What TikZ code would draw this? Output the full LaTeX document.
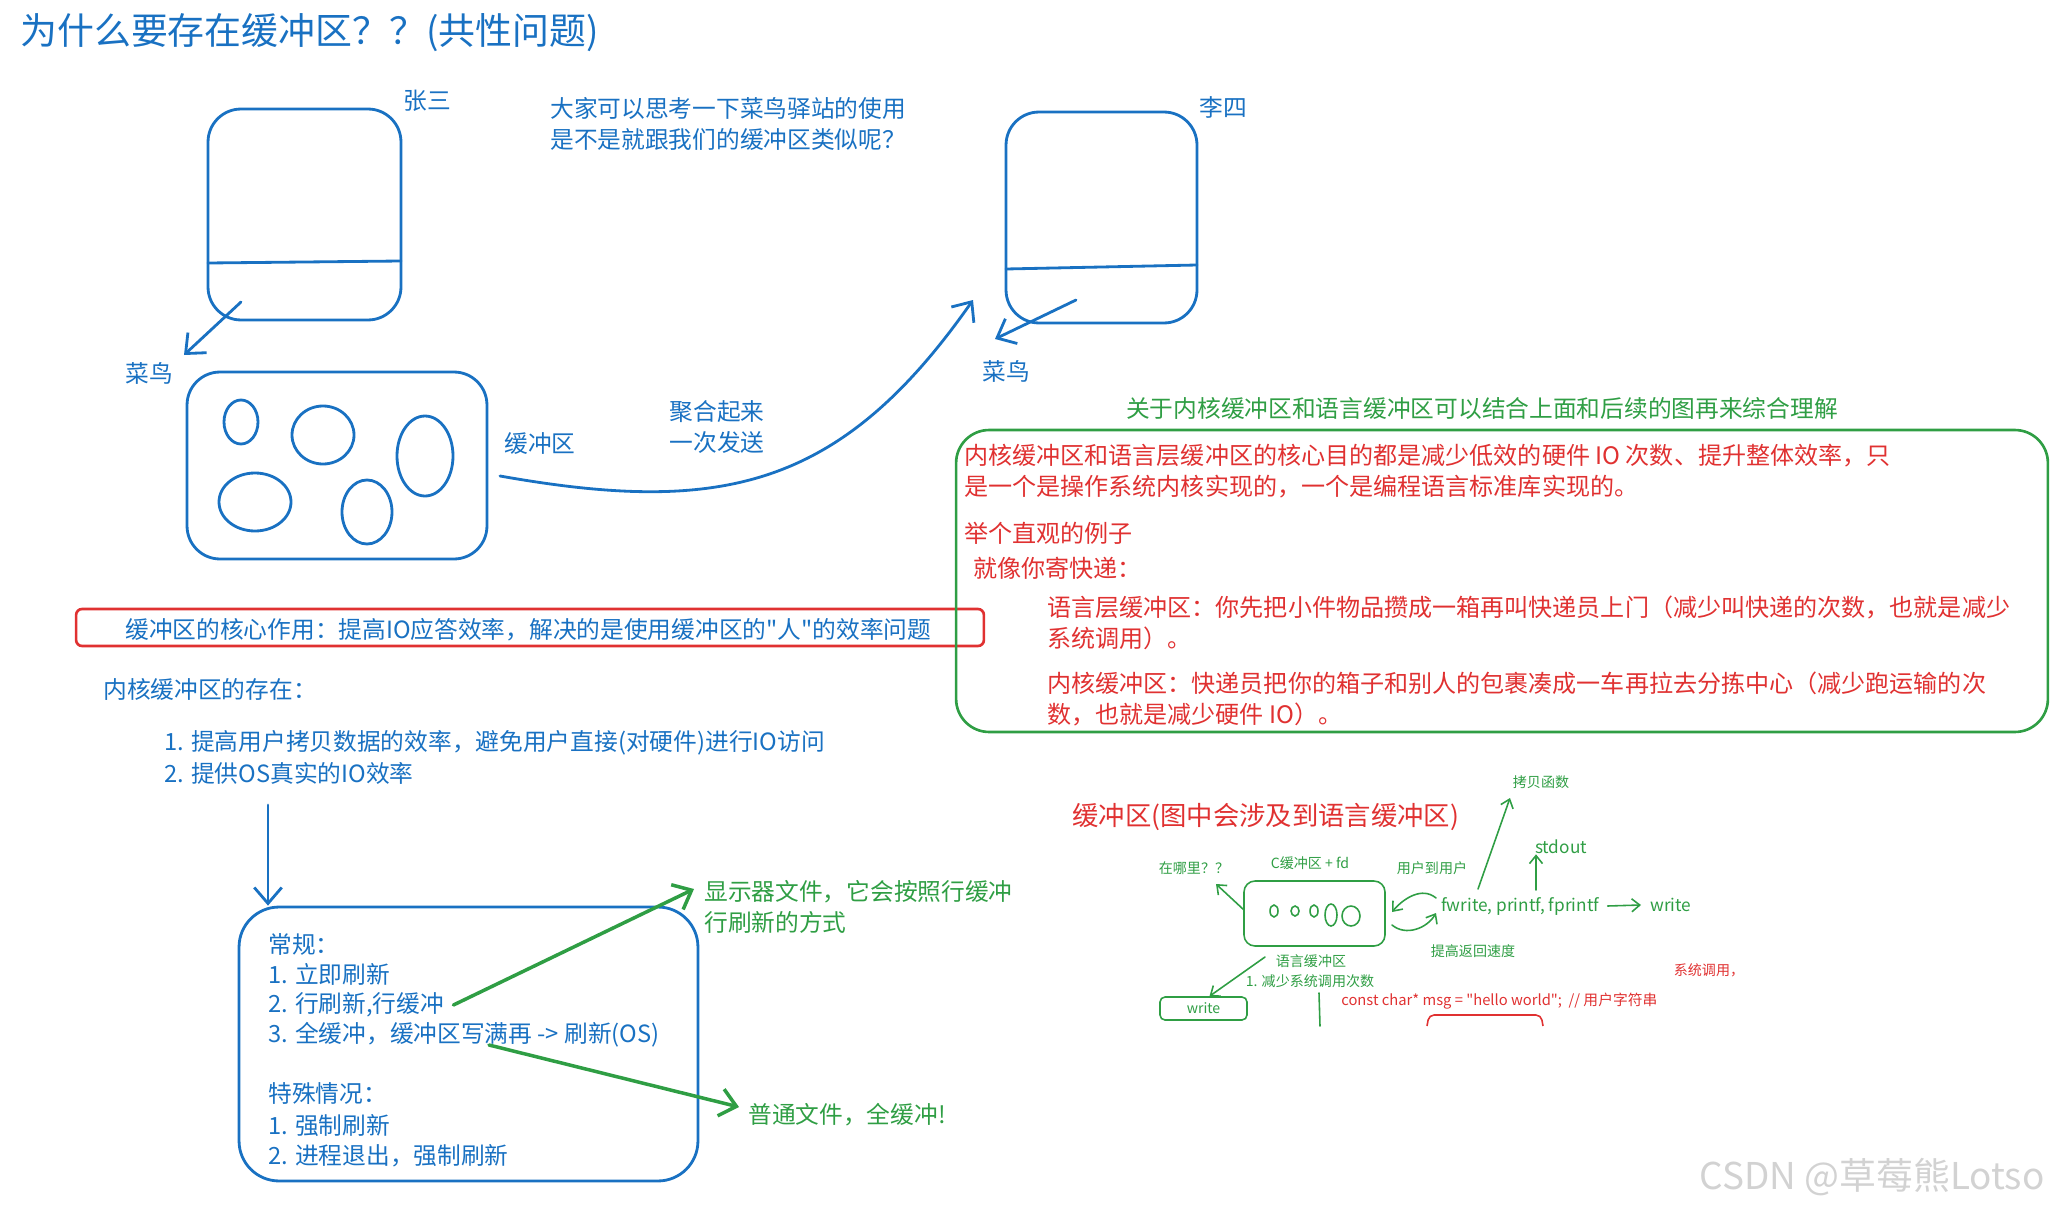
\documentclass[tikz,border=0pt]{standalone}
\usepackage{fontspec}
\setmainfont{Noto Sans CJK SC}[Ligatures=TeXOff]
\usetikzlibrary{arrows.meta,positioning}

\definecolor{skblue}{HTML}{1971C2}
\definecolor{skgreen}{HTML}{2F9E44}
\definecolor{skred}{HTML}{E03131}
\definecolor{wmgray}{HTML}{D2D2D2}

\tikzset{
  title/.style={font=\fontsize{21}{25}\selectfont,text=skblue,inner sep=0pt},
  btext/.style={font=\fontsize{13.5}{17.5}\selectfont,text=skblue,inner sep=0pt,align=left},
  gtext/.style={font=\fontsize{13.5}{17.5}\selectfont,text=skgreen,inner sep=0pt,align=left},
  rtext/.style={font=\fontsize{13.7}{17.5}\selectfont,text=skred,inner sep=0pt,align=left},
  stext/.style={font=\fontsize{8}{10}\selectfont,text=skgreen,inner sep=0pt},
  ltext/.style={stext,font=\fontsize{9.8}{11}\selectfont},
  bbox/.style={draw=skblue,line width=1.6pt,rounded corners=0.66cm},
  bline/.style={draw=skblue,line width=1.6pt,line cap=round},
  barrow/.style={bline,->,>={Straight Barb[length=3.2mm,width=5.5mm]}},
  garrow/.style={draw=skgreen,line width=2pt,line cap=round,->,>={Straight Barb[length=3.2mm,width=5.5mm]}},
  sarrow/.style={draw=skgreen,line width=0.9pt,line cap=round,->,>={Straight Barb[length=1.6mm,width=2.6mm]}},
}

\begin{document}
\begin{tikzpicture}[x=0.02cm,y=-0.02cm]
\useasboundingbox (0,0) rectangle (2062,1213);

\node[title,anchor=west] (title) at (20,33) {为什么要存在缓冲区？？(共性问题)};

% Zhang San and his buffer
\node[bbox,minimum width=3.86cm,minimum height=4.22cm] (zhangsan) at (304.5,214.5) {};
\draw[bline] (208,263) -- (401,261);
\node[btext] (zsname) at (427,101) {张三};
\node[btext] (cainiaoA) at (149,373) {菜鸟};
\coordinate (zsout) at (241,302);
\coordinate (zstip) at (184,355);
\draw[barrow] (zsout) -- (zstip);

\node[bbox,minimum width=6cm,minimum height=3.74cm] (buffer) at (337,465.5) {};
\draw[bline] (241,422) ellipse [x radius=17,y radius=22];
\draw[bline] (323,435) ellipse [x radius=31,y radius=29];
\draw[bline] (425,456) ellipse [x radius=28,y radius=40];
\draw[bline] (255,502) ellipse [x radius=36,y radius=29];
\draw[bline] (367,512) ellipse [x radius=25,y radius=32];
\node[btext] (bufname) at (540,444) {缓冲区};

\node[btext,align=center] (gather) at (717,427) {聚合起来\\一次发送};
\node[btext,anchor=west] (think) at (550,124) {大家可以思考一下菜鸟驿站的使用\\是不是就跟我们的缓冲区类似呢？};

% Li Si
\node[bbox,minimum width=3.82cm,minimum height=4.22cm] (lisi) at (1101.5,217.5) {};
\draw[bline] (1006,269) -- (1197,265);
\node[btext] (lsname) at (1223,107) {李四};
\node[btext] (cainiaoB) at (1006,371) {菜鸟};
\coordinate (lsout) at (1076,300);
\coordinate (lstip) at (995,339);
\draw[barrow] (lsout) -- (lstip);

\coordinate (bufout) at (500,476);
\coordinate (sendtip) at (973,300);
\draw[barrow] (bufout) .. controls (720,515) and (840,490) .. (sendtip);

% core role
\node[draw=skred,line width=1.5pt,rounded corners=0.12cm,minimum width=18.16cm,minimum height=0.74cm] (corebox) at (530,627.5) {};
\node[btext,anchor=west] (core) at (125,630) {缓冲区的核心作用：提高IO应答效率，解决的是使用缓冲区的"人"的效率问题};

\node[btext,anchor=west] (kernel) at (103,689) {内核缓冲区的存在：};
\node[btext,anchor=west] (kernelA) at (164,743) {1. 提高用户拷贝数据的效率，避免用户直接(对硬件)进行IO访问};
\node[btext,anchor=west] (kernelB) at (164,773) {2. 提供OS真实的IO效率};

% flush policies
\node[bbox,minimum width=9.18cm,minimum height=5.48cm,rounded corners=0.8cm] (flush) at (468.5,1044) {};
\coordinate (downfrom) at (268,805);
\draw[barrow] (downfrom) -- (flush.north -| downfrom);
\node[btext,anchor=west] (usual) at (268,944) {常规：};
\node[btext,anchor=west] (rule1) at (268,974) {1. 立即刷新};
\node[btext,anchor=west] (rule2) at (268,1005) {2. 行刷新,行缓冲};
\node[btext,anchor=west] (rule3) at (268,1035) {3. 全缓冲，缓冲区写满再 -> 刷新(OS)};
\node[btext,anchor=west] (special) at (268,1094) {特殊情况：};
\node[btext,anchor=west] (force1) at (268,1126) {1. 强制刷新};
\node[btext,anchor=west] (force2) at (268,1156) {2. 进程退出，强制刷新};

\node[gtext,anchor=west] (display) at (704,907) {显示器文件，它会按照行缓冲\\行刷新的方式};
\node[gtext,anchor=west] (normal) at (748,1115) {普通文件，全缓冲!};
\coordinate (disptip) at (694,889);
\coordinate (normfrom) at (489,1045);
\coordinate (normtip) at (739,1107);
\draw[garrow] ([xshift=0.18cm]rule2.east) -- (disptip);
\draw[garrow] (normfrom) -- (normtip);

% kernel vs language buffer
\node[gtext] (about) at (1482,408) {关于内核缓冲区和语言缓冲区可以结合上面和后续的图再来综合理解};
\node[draw=skgreen,line width=1.5pt,rounded corners=0.66cm,minimum width=21.84cm,minimum height=6.04cm] (compare) at (1502,581) {};
\node[rtext,anchor=west] (purpose) at (964,471) {内核缓冲区和语言层缓冲区的核心目的都是减少低效的硬件 IO 次数、提升整体效率，只\\是一个是操作系统内核实现的，一个是编程语言标准库实现的。};
\node[rtext,anchor=west] (example) at (964,533) {举个直观的例子};
\node[rtext,anchor=west] (express) at (973,568) {就像你寄快递：};
\node[rtext,anchor=west] (langbuf) at (1047,623) {语言层缓冲区：你先把小件物品攒成一箱再叫快递员上门（减少叫快递的次数，也就是减少\\系统调用）。};
\node[rtext,anchor=west] (kernbuf) at (1047,699) {内核缓冲区：快递员把你的箱子和别人的包裹凑成一车再拉去分拣中心（减少跑运输的次\\数，也就是减少硬件 IO）。};

% small sketch
\node[rtext,font=\fontsize{15}{18}\selectfont,anchor=west] (sketch) at (1072,817) {缓冲区(图中会涉及到语言缓冲区)};
\node[draw=skgreen,line width=0.9pt,rounded corners=0.22cm,minimum width=2.82cm,minimum height=1.3cm] (cbuf) at (1314.5,913.5) {};
\draw[skgreen,line width=0.9pt] (1274,911) ellipse [x radius=4,y radius=6];
\draw[skgreen,line width=0.9pt] (1295,911) ellipse [x radius=4,y radius=5];
\draw[skgreen,line width=0.9pt] (1314,911) ellipse [x radius=4,y radius=6];
\draw[skgreen,line width=0.9pt] (1331,915) ellipse [x radius=6,y radius=11];
\draw[skgreen,line width=0.9pt] (1351,916) ellipse [x radius=9,y radius=10];
\node[stext] (where) at (1194,868) {在哪里？？};
\node[stext] (cfd) at (1310,863) {C缓冲区 + fd};
\node[stext] (u2u) at (1432,868) {用户到用户};
\node[stext] (copyfn) at (1541,782) {拷贝函数};
\node[ltext] (stdout) at (1561,847) {stdout};
\node[ltext,anchor=west] (funcs) at (1441,906) {fwrite, printf, fprintf};
\node[ltext,anchor=west] (sysw) at (1650,905) {write};
\node[stext] (faster) at (1473,951) {提高返回速度};
\node[stext] (langname) at (1311,961) {语言缓冲区};
\node[stext] (fewer) at (1310,981) {1. 减少系统调用次数};
\node[stext,draw=skgreen,line width=0.9pt,rounded corners=0.1cm,minimum width=1.74cm,minimum height=0.46cm] (wbox) at (1203.5,1008.5) {write};

\coordinate (wherefrom) at (1244,910);
\coordinate (wheretip) at (1216,884);
\draw[sarrow] (wherefrom) -- (wheretip);
\coordinate (wfrom) at (1265,957);
\draw[sarrow] (wfrom) -- ([xshift=0.12cm]wbox.north);
\coordinate (upfrom) at (1436,898);
\coordinate (uptip) at (1392,912);
\draw[sarrow] (upfrom) to[out=140,in=50] (uptip);
\coordinate (dnfrom) at (1392,925);
\coordinate (dntip) at (1436,913);
\draw[sarrow] (dnfrom) to[out=-40,in=-120] (dntip);
\coordinate (copyfrom) at (1478,889);
\coordinate (copytip) at (1510,798);
\draw[sarrow] (copyfrom) -- (copytip);
\coordinate (stdfrom) at (1536,890);
\draw[sarrow] (stdfrom) -- (stdout.south -| stdfrom);
\draw[sarrow] ([xshift=0.16cm]funcs.east) -- ([xshift=-0.18cm]sysw.west);
\draw[skgreen,line width=0.9pt,line cap=round] (1319,993) -- (1320,1026);

\node[stext,font=\fontsize{8.4}{10}\selectfont,text=skred,anchor=west] (code) at (1341,1001) {const char* msg = "hello world";~~// 用户字符串};
\node[stext,text=skred] (syscall) at (1709,970) {系统调用，};
\draw[skred,line width=0.9pt,rounded corners=0.1cm] (1427,1026) -- (1429,1015) -- (1541,1015) -- (1543,1026);

\node[font=\fontsize{21}{25}\selectfont,text=wmgray,inner sep=0pt] (mark) at (1872,1177) {CSDN @草莓熊Lotso};
\end{tikzpicture}
\end{document}
